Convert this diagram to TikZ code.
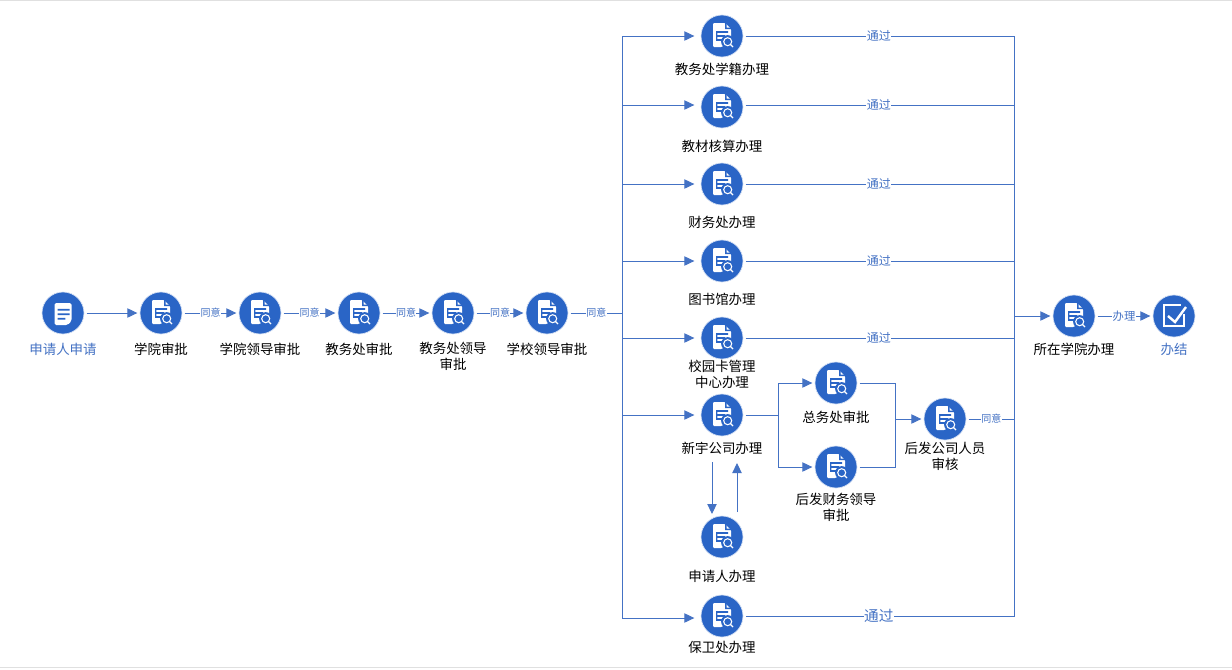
\documentclass[tikz,border=0pt]{standalone}
\usepackage{fontspec}
\setmainfont{Noto Sans CJK SC}
\usetikzlibrary{arrows.meta}
\definecolor{stepblue}{HTML}{2A65C6}
\definecolor{linkblue}{HTML}{4472C4}
\tikzset{
  stepnode/.style={circle,fill=stepblue,draw=stepblue!20,line width=0.5pt,minimum size=31.5pt,inner sep=0pt,outer sep=2pt},
  flow/.style={draw=linkblue,line width=0.7pt,-{Triangle[length=7.5pt,width=7pt]}},
  farflow/.style={flow,shorten >=3pt},
  wire/.style={draw=linkblue,line width=0.7pt,line join=miter},
  steptext/.style={font=\fontsize{10.1pt}{12pt}\selectfont,align=center,text=black,inner sep=0pt},
  endtext/.style={steptext,text=linkblue},
  passtag/.style={font=\fontsize{9pt}{10pt}\selectfont,text=linkblue,fill=white,inner sep=0.3pt},
  oktag/.style={font=\fontsize{7.5pt}{8pt}\selectfont,text=linkblue,fill=white,inner sep=0.3pt},
  docicon/.pic={
    \fill[white,rounded corners=0.8pt] (-9,-13) -- (3,-13) -- (9,-7) -- (9,2) -- (0,11) -- (-9,11) -- cycle;
    \fill[stepblue] (3,-13) -- (3,-7) -- (9,-7) -- (9,-8.5) -- (4.5,-8.5) -- (4.5,-13) -- cycle;
    \fill[stepblue] (-6,-4.8) rectangle (6,-3.2) (-6,-0.8) rectangle (3,0.8) (-6,3.2) rectangle (0,4.8) (-6,-4.8) rectangle (-4.6,4.8);
    \fill[stepblue] (5.7,5.7) circle (6.6);
    \draw[white,line width=0.8pt] (5.7,5.7) circle (4);
    \draw[white,line width=1pt] (8.6,8.6) -- (11,11);
  },
  noteicon/.pic={
    \fill[white,rounded corners=1.2pt] (-8.5,-10) -- (8.5,-10) -- (8.5,8) -- (4.5,12) -- (-8.5,12) -- cycle;
    \fill[stepblue] (-5.3,-4.2) rectangle (6.6,-2.4) (-5.3,0.4) rectangle (6.6,2.2) (-5.3,4.8) rectangle (2.3,6.6);
  },
  checkicon/.pic={
    \draw[white,line width=1pt] (10,-2) -- (10,10) -- (-10,10) -- (-10,-11) -- (7,-11);
    \draw[white,line width=1.8pt] (-6,0) -- (1,6) -- (12,-9);
  }
}
\begin{document}
\begin{tikzpicture}[x=0.75pt,y=-0.75pt]
  \useasboundingbox (0,0) rectangle (1232,669);
  \fill[white] (0,0) rectangle (1232,669);
  \draw[black!12,line width=0.75pt] (0,0.5) -- (1232,0.5) (0,667.5) -- (1232,667.5);
  % main line
  \node[stepnode] (apply) at (63,313) {};
  \node[stepnode] (college) at (161,313) {};
  \node[stepnode] (collegelead) at (260,313) {};
  \node[stepnode] (affairs) at (359,313) {};
  \node[stepnode] (affairslead) at (453,313) {};
  \node[stepnode] (schoollead) at (547,313) {};
  % parallel branch
  \node[stepnode] (status) at (722,36) {};
  \node[stepnode] (books) at (722,107) {};
  \node[stepnode] (finance) at (722,184) {};
  \node[stepnode] (library) at (722,261) {};
  \node[stepnode] (card) at (722,338) {};
  \node[stepnode] (xinyu) at (722,415) {};
  \node[stepnode] (applicant) at (722,537) {};
  \node[stepnode] (security) at (722,616) {};
  \node[stepnode] (general) at (836,383) {};
  \node[stepnode] (logistics) at (836,467) {};
  \node[stepnode] (staff) at (945,419) {};
  \node[stepnode] (home) at (1074,316) {};
  \node[stepnode] (finish) at (1174,316) {};
  \pic at (apply) {noteicon};
  \foreach \n in {college,collegelead,affairs,affairslead,schoollead,status,books,finance,library,card,xinyu,applicant,security,general,logistics,staff,home}
    \pic at (\n) {docicon};
  \pic at (finish) {checkicon};
  % labels
  \node[endtext] (applytext) at (63,349) {申请人申请};
  \node[steptext] (collegetext) at (161,349) {学院审批};
  \node[steptext] (collegeleadtext) at (260,349) {学院领导审批};
  \node[steptext] (affairstext) at (359,349) {教务处审批};
  \node[steptext] (affairsleadtext) at (453,356) {教务处领导\\审批};
  \node[steptext] (schoolleadtext) at (547,349) {学校领导审批};
  \node[steptext] (statustext) at (722,69) {教务处学籍办理};
  \node[steptext] (bookstext) at (722,146) {教材核算办理};
  \node[steptext] (financetext) at (722,222) {财务处办理};
  \node[steptext] (librarytext) at (722,299) {图书馆办理};
  \node[steptext] (cardtext) at (722,374) {校园卡管理\\中心办理};
  \node[steptext] (xinyutext) at (722,448) {新宇公司办理};
  \node[steptext] (applicanttext) at (722,576) {申请人办理};
  \node[steptext] (securitytext) at (722,647) {保卫处办理};
  \node[steptext] (generaltext) at (836,417) {总务处审批};
  \node[steptext] (logisticstext) at (836,507) {后发财务领导\\审批};
  \node[steptext] (stafftext) at (945,456) {后发公司人员\\审核};
  \node[steptext] (hometext) at (1074,349) {所在学院办理};
  \node[endtext] (finishtext) at (1174,349) {办结};
  % junctions
  \coordinate (hub) at (622,313);
  \coordinate (hubtop) at (622,36);
  \coordinate (hubend) at (622,618);
  \coordinate (bus) at (1014,316);
  \coordinate (bustop) at (1014,36);
  \coordinate (busend) at (1014,616);
  \coordinate (merge) at (895,419);
  \coordinate (split) at (778,415);
  % connectors
  \draw[flow] (apply) -- (college);
  \foreach \a/\b in {college/collegelead,collegelead/affairs,affairs/affairslead,affairslead/schoollead}
    \draw[flow] (\a) -- node[oktag] {同意} (\b);
  \draw[wire] (schoollead) -- node[oktag] {同意} (hub);
  \draw[farflow] (hubend) -- (hubtop) -- (status);
  \draw[wire] (status) -- node[passtag,pos=0.496] {通过} (bustop) -- (busend) -- node[passtag,font=\fontsize{11pt}{12pt}\selectfont,pos=0.504] {通过} (security);
  \foreach \n/\y in {books/105,finance/184,library/261,card/338,xinyu/415,security/618}
    \draw[farflow] (622,\y) -- (\n.west |- 622,\y);
  \foreach \n/\y in {books/105,finance/184,library/261,card/338}
    \draw[wire] (\n.east |- 622,\y) -- node[passtag,pos=0.496] {通过} (1014,\y);
  \draw[flow] (bus) -- (home);
  \draw[flow] (home) -- node[oktag,font=\fontsize{8.5pt}{9pt}\selectfont] {办理} (finish);
  \draw[wire] (xinyu) -- (split);
  \draw[flow] (split) |- (general);
  \draw[flow] (split) |- (logistics);
  \draw[wire] (general) -| (merge);
  \draw[wire] (logistics) -| (merge);
  \draw[flow] (merge) -- (staff);
  \draw[wire] (staff) -- node[oktag] {同意} (staff -| bus);
  \draw[flow] (712,462) -- (712,514);
  \draw[flow] (737,512) -- (737,463);
\end{tikzpicture}
\end{document}
